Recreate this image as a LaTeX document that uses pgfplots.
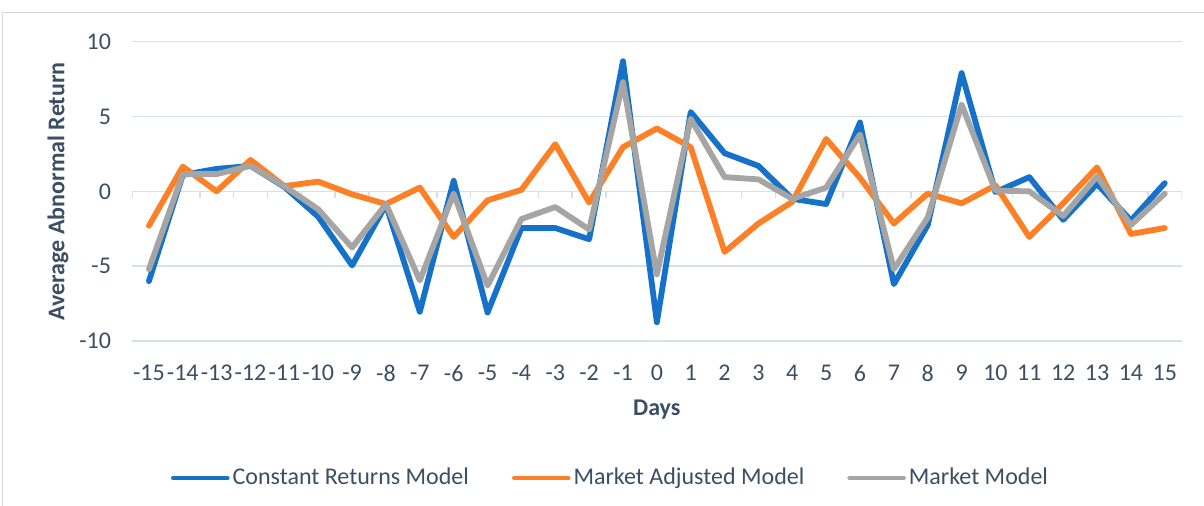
\documentclass[border=0pt]{standalone}
\usepackage{pgfplots}
\pgfplotsset{compat=1.18}
\usepackage{fontspec}
\setmainfont{Carlito}
\definecolor{cblue}{RGB}{22,114,200}
\definecolor{corange}{RGB}{253,128,39}
\definecolor{cgray}{RGB}{165,165,165}
\definecolor{ctext}{RGB}{60,78,100}
\definecolor{cgrid}{RGB}{217,223,230}
\definecolor{cborder}{RGB}{217,217,217}
\begin{document}
\begin{tikzpicture}
\useasboundingbox (-66pt,-82.5pt) rectangle (536pt,170.5pt);
\fill[white] (-66pt,-82.5pt) rectangle (536pt,170.5pt);
\draw[cborder, line width=0.6pt] (-64.75pt,-82.5pt) -- (-64.75pt,164.15pt) -- (536pt,164.15pt);
\begin{axis}[
  scale only axis,
  width=524.85pt, height=149.65pt,
  xmin=-15.5, xmax=15.5,
  ymin=-10, ymax=10,
  xtick={-15,...,15},
  ytick={-10,-5,0,5,10},
  axis line style={draw=none},
  major tick length=0pt,
  ymajorgrids,
  grid style={cgrid, line width=0.8pt},
  /pgf/number format/assume math mode=true,
  ticklabel style={font=\fontsize{12}{14}\selectfont, text=ctext},
  xticklabel style={yshift=-8.5pt},
  yticklabel style={xshift=-7pt},
  xlabel={Days},
  ylabel={Average Abnormal Return},
  label style={font=\fontsize{12}{14}\selectfont\bfseries, text=ctext},
  xlabel style={at={(axis description cs:0.5,-0.2305)}, anchor=center},
  ylabel style={at={(axis description cs:-0.0705,0.5)}, anchor=center},
  legend columns=3,
  legend style={draw=none, fill=none, at={(axis description cs:0.4563,-0.4577)}, anchor=center,
    font=\fontsize{12}{14}\selectfont, text=ctext,
    /tikz/every even column/.append style={column sep=20pt},
    nodes={inner xsep=1.5pt}},
  legend image code/.code={\draw[#1, line width=2.3pt, line cap=round] (0pt,0pt) -- (27pt,0pt);},
  every axis plot/.append style={line width=2.9pt, line join=round, line cap=round, mark=none},
]
\pgfplotsinvokeforeach{-15.5,-14.5,...,15.5}{
  \draw[cgrid, line width=0.8pt] (axis cs:#1,0) -- ++(0pt,-3.5pt);
}
\addplot[cblue] coordinates {
(-15,-6.0) (-14,1.1) (-13,1.5) (-12,1.7) (-11,0.3) (-10,-1.7) (-9,-4.95) (-8,-0.9)
(-7,-8.05) (-6,0.7) (-5,-8.1) (-4,-2.45) (-3,-2.45) (-2,-3.2) (-1,8.7) (0,-8.75)
(1,5.3) (2,2.55) (3,1.7) (4,-0.5) (5,-0.85) (6,4.6) (7,-6.2) (8,-2.25) (9,7.9)
(10,-0.05) (11,0.95) (12,-1.9) (13,0.5) (14,-1.95) (15,0.55)};
\addlegendentry{Constant Returns Model}
\addplot[corange] coordinates {
(-15,-2.3) (-14,1.65) (-13,0.0) (-12,2.1) (-11,0.35) (-10,0.65) (-9,-0.2) (-8,-0.85)
(-7,0.25) (-6,-3.05) (-5,-0.6) (-4,0.1) (-3,3.15) (-2,-0.75) (-1,2.95) (0,4.2)
(1,2.95) (2,-4.05) (3,-2.15) (4,-0.7) (5,3.5) (6,0.9) (7,-2.15) (8,-0.15) (9,-0.8)
(10,0.4) (11,-3.05) (12,-0.8) (13,1.6) (14,-2.85) (15,-2.45)};
\addlegendentry{Market Adjusted Model}
\addplot[cgray] coordinates {
(-15,-5.2) (-14,1.15) (-13,1.15) (-12,1.7) (-11,0.35) (-10,-1.2) (-9,-3.75) (-8,-0.85)
(-7,-5.95) (-6,-0.15) (-5,-6.3) (-4,-1.85) (-3,-1.05) (-2,-2.55) (-1,7.3) (0,-5.55)
(1,4.85) (2,0.95) (3,0.8) (4,-0.5) (5,0.25) (6,3.8) (7,-5.2) (8,-1.75) (9,5.8)
(10,0.05) (11,0.0) (12,-1.65) (13,1.0) (14,-2.25) (15,-0.15)};
\addlegendentry{Market Model}
\end{axis}
\end{tikzpicture}
\end{document}
